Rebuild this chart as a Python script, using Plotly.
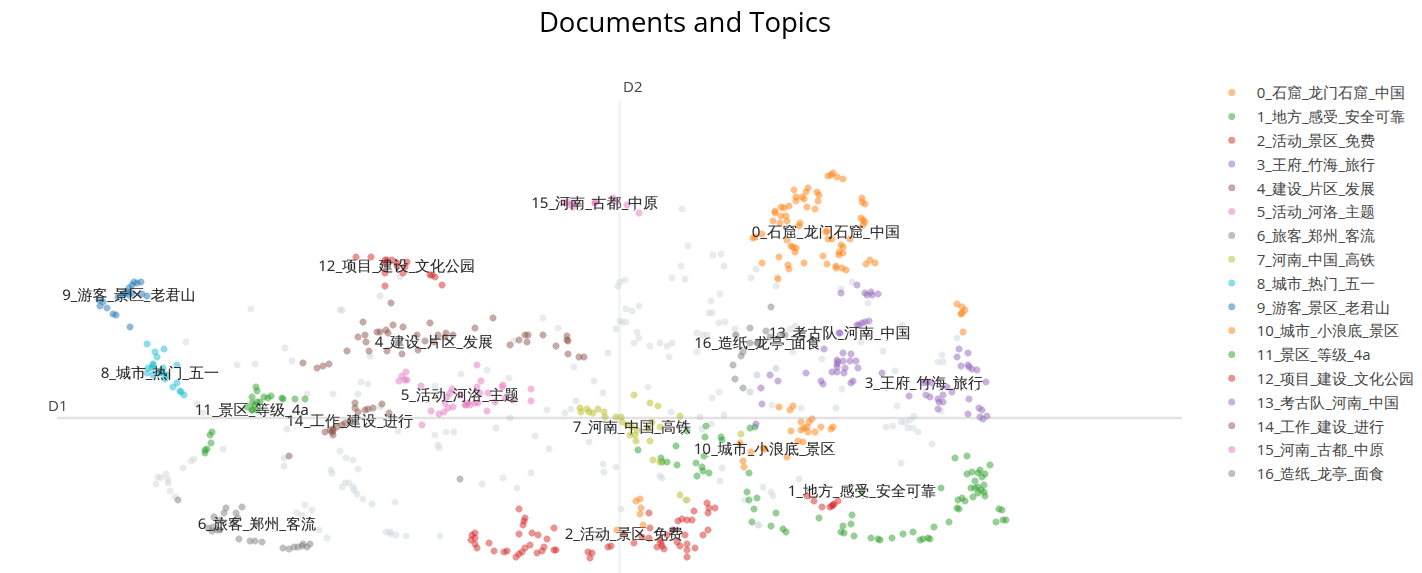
import plotly.graph_objects as go

other = [(251,309),(340,310),(342,310),(380,296),(400,277),(186,342),(285,348),(292,361),(237,365),(255,364),(370,356),
(461,374),(361,382),(368,384),(435,386),(307,394),(333,394),(358,394),(197,404),(203,413),(398,431),(380,407),(287,429),(435,435),(446,432),(454,432),(438,445),(439,448),(223,449),(194,459),(191,461),(183,468),(284,458),(284,466),(340,451),(346,458),(353,460),(358,469),(331,470),(332,473),(166,474),(158,477),(161,478),(168,480),(156,484),(168,483),(170,491),(175,497),(345,483),(349,483),(342,487),(353,487),(354,490),(357,494),(363,499),(372,504),(395,502),(305,505),(312,510),(297,513),(302,515),(319,530),(327,538),(386,532),(390,532),(391,534),(396,535),(406,536),(440,536),
(487,370),(509,378),(594,381),(603,393),(576,401),(571,409),(565,413),(547,410),(510,418),(496,428),(535,436),(549,449),(589,442),(603,464),(616,467),(604,472),(531,473),(503,478),(482,484),(517,488),(660,476),(662,478),(648,387),(671,412),(700,417),(712,398),(719,392),(724,415),(702,429),(711,424),(750,392),(757,375),(722,468),(720,481),(621,509),(745,500),(758,525),(597,538),(685,500),
(682,209),(688,246),(713,255),(721,254),(681,266),(724,266),(672,278),(685,279),(720,294),(711,301),(709,313),(712,313),(719,323),(725,322),(735,329),(697,333),(703,335),(707,335),(672,343),(667,346),(660,343),(650,346),(639,338),(637,332),(634,343),(669,357),(608,353),(574,367),(543,318),(558,328),(514,341),(618,286),(620,282),(625,280),(626,309),(632,311),(639,306),(620,321),(622,322),(626,322),(616,329),(697,352),
(756,269),(751,278),(777,277),(776,286),(852,282),(841,289),(868,303),(902,325),(957,338),(942,355),(938,362),(943,362),(883,351),(861,342),(822,359),(790,329),(795,326),(735,335),(793,352),(895,371),(776,368),(757,375),(750,392),(776,369),(842,389),(772,405),(801,408),(836,408),(897,406),(886,427),(893,426),(901,422),(905,422),(910,420),(914,416),(908,428),(913,428),(918,432),(941,411),(932,444),(901,463),(799,479),(763,487),(771,492),(773,496),(759,525)]

topic_0 = [(828,176),(831,175),(833,173),(837,177),(843,179),(794,190),(808,188),(806,192),(804,199),(802,197),(796,197),(796,201),(817,192),(819,195),(818,201),(807,207),(815,209),(862,198),(862,202),(865,204),(789,206),(781,207),(784,208),(775,211),(775,213),(781,216),(786,216),(773,221),(780,223),(787,221),(800,223),(799,226),(861,218),(863,220),(865,222),(863,225),(753,238),(755,237),(762,234),(787,240),(827,231),(828,239),(832,239),(850,239),(791,246),(793,247),(796,248),(795,252),(841,245),(843,247),(839,252),(843,253),(839,255),(779,257),(823,256),(762,263),(788,265),(789,269),(804,263),(827,264),(836,266),(836,268),(842,268),(846,270),(866,264),(870,260),(875,263),(778,279),(957,304),(962,307),(965,310),(962,313),(961,314),(963,332)]
topic_1 = [(955,458),(967,456),(990,465),(980,470),(978,473),(967,474),(972,472),(985,474),(982,477),(975,481),(971,488),(975,488),(978,487),(984,485),(981,490),(984,492),(978,493),(985,496),(973,497),(965,501),(962,498),(958,500),(957,508),(959,509),(999,509),(1002,510),(996,522),(1003,520),(1006,520),(949,522),(934,527),(913,532),(903,534),(892,538),(880,540),(871,538),(878,539),(920,540),(923,539),(928,538),(930,539),(941,488),(854,536),(844,533),(841,532),(843,526),(851,524),(852,515),(819,518),(786,532),(783,529),(771,526),(752,522),(776,513),(754,509),(757,498),(749,500),(747,492),(749,473),(638,450),(676,446),(661,458),(662,462),(667,462),(677,465),(696,463),(697,476),(702,467),(703,471),(709,473),(704,456),(705,437),(706,426),(721,437),(722,440),(687,431),(750,428),(755,427)]
topic_2 = [(519,509),(525,518),(524,521),(523,525),(519,534),(532,533),(538,535),(554,528),(547,539),(472,535),(475,533),(471,540),(475,538),(475,544),(477,548),(489,543),(494,551),(504,552),(507,551),(516,557),(519,554),(522,552),(525,548),(530,545),(537,553),(542,551),(544,547),(554,550),(556,550),(588,552),(592,553),(590,558),(608,547),(611,546),(634,543),(657,547),(661,543),(662,546),(664,549),(649,513),(650,528),(649,538),(678,521),(682,519),(687,520),(692,520),(694,511),(707,503),(709,508),(715,508),(708,513),(708,530),(703,535),(685,535),(687,544),(695,548),(687,550),(687,557),(680,546),(677,542),(673,530),(667,535),(660,540),(642,537),(807,496),(814,501),(822,507),(830,507),(833,505),(832,506),(834,504),(838,501)]
topic_3 = [(843,353),(851,354),(837,360),(838,362),(843,361),(850,361),(856,361),(837,367),(845,368),(858,368),(837,364),(832,372),(837,372),(844,373),(806,373),(770,375),(761,388),(778,381),(762,404),(821,381),(823,384),(853,381),(851,383),(882,373),(961,366),(968,365),(969,367),(972,369),(977,370),(986,382),(927,382),(932,383),(947,387),(952,392),(943,395),(926,395),(930,397),(909,396),(938,399),(943,402),(939,402),(969,399),(938,409),(979,408),(982,410),(968,414),(987,416),(980,417),(983,419),(756,424),(959,349),(968,353),(957,357)]
topic_4 = [(391,303),(363,322),(393,325),(403,327),(430,323),(475,328),(358,337),(365,335),(366,342),(377,332),(380,332),(386,330),(388,333),(347,351),(369,351),(387,351),(402,354),(418,350),(417,335),(425,341),(438,335),(446,333),(453,335),(445,337),(303,363),(317,368),(323,366),(329,364),(493,318),(510,345),(519,340),(525,335),(528,335),(527,342),(543,335),(556,346),(567,336),(567,340),(568,341),(568,354),(579,357),(584,357)]
topic_5 = [(406,372),(402,376),(399,381),(405,380),(407,380),(421,386),(450,393),(452,389),(447,397),(445,403),(448,408),(453,407),(431,411),(439,414),(444,412),(422,425),(466,405),(470,405),(475,403),(477,387),(480,393),(477,365),(481,381),(503,385),(502,387),(488,393),(531,389),(531,401),(487,411),(465,405),(468,403),(478,403),(495,402),(505,398),(513,400)]
topic_6 = [(226,508),(224,513),(242,507),(236,513),(238,518),(214,517),(220,520),(213,527),(217,530),(220,530),(208,528),(212,531),(233,523),(239,539),(250,541),(255,541),(262,542),(283,548),(289,549),(294,547),(298,547),(303,544),(307,547),(310,544),(302,546),(178,500),(460,479)]
topic_7 = [(634,395),(650,403),(658,406),(580,408),(581,412),(587,409),(589,412),(593,413),(598,409),(604,412),(605,417),(616,417),(621,417),(622,422),(627,425),(630,435),(635,435),(636,441),(650,441),(652,422),(660,427),(680,416),(653,460),(660,462),(680,495),(687,500),(741,434),(648,428),(637,430)]
topic_8 = [(147,344),(155,352),(164,349),(157,357),(177,365),(153,364),(163,368),(153,365),(148,368),(153,375),(165,379),(177,383),(173,387),(181,392),(184,395),(152,368),(147,373),(163,373),(160,372),(167,375),(180,391)]
topic_9 = [(141,282),(134,282),(137,283),(132,285),(129,288),(128,292),(125,293),(147,296),(142,294),(100,306),(107,308),(113,314),(116,315),(130,327),(99,300),(103,302),(118,297),(123,295),(132,293)]
topic_10 = [(636,501),(640,499),(641,508),(640,514),(643,525),(617,530),(779,407),(790,410),(793,406),(812,419),(809,422),(801,422),(807,427),(804,428),(801,430),(791,431),(808,432),(815,432),(821,427),(831,429),(833,427),(798,441),(803,442),(787,457),(751,452),(743,461),(744,467),(740,443),(763,448)]
topic_11 = [(256,387),(257,391),(252,397),(264,397),(271,396),(268,398),(282,398),(283,399),(295,399),(305,399),(257,402),(260,402),(252,403),(255,405),(247,407),(252,410),(257,410),(212,432),(210,435),(211,443),(207,449),(205,450),(205,453)]
topic_12 = [(356,257),(371,257),(385,260),(387,260),(392,260),(407,262),(385,263),(397,263),(385,273),(403,273),(430,275),(432,275),(435,277),(442,285),(385,286),(405,267)]
topic_13 = [(857,285),(841,293),(865,293),(867,295),(871,292),(872,295),(878,294),(869,321),(865,322),(862,323),(859,325),(857,325),(839,333),(824,349)]
topic_14 = [(355,403),(355,408),(358,412),(368,409),(373,408),(382,404),(389,413),(345,423),(337,427),(333,429),(332,432),(325,432),(333,435),(342,425),(289,456),(333,431),(330,430),(365,410)]
topic_15 = [(568,202),(570,205),(575,203),(595,203),(613,198),(617,202),(627,205),(639,213),(573,207),(565,203)]
topic_16 = [(771,307),(750,328),(766,331),(743,352),(741,356),(733,365),(785,335),(780,335),(770,337),(750,343),(757,343),(735,379),(743,388),(736,335)]

topic_points = [topic_0,topic_1,topic_2,topic_3,topic_4,topic_5,topic_6,topic_7,topic_8,topic_9,topic_10,topic_11,topic_12,topic_13,topic_14,topic_15,topic_16]
topic_names = ["0_石窟_龙门石窟_中国","1_地方_感受_安全可靠","2_活动_景区_免费","3_王府_竹海_旅行","4_建设_片区_发展","5_活动_河洛_主题","6_旅客_郑州_客流","7_河南_中国_高铁","8_城市_热门_五一","9_游客_景区_老君山","10_城市_小浪底_景区","11_景区_等级_4a","12_项目_建设_文化公园","13_考古队_河南_中国","14_工作_建设_进行","15_河南_古都_中原","16_造纸_龙亭_面食"]
label_x = [826,862,624,924,434,460,257,632,160,129,765,252,397,840,350,595,758]
label_y = [232,491,534,383,342,395,524,427,373,295,449,410,266,333,421,203,343]
d1_range = [57, 1182]
d2_range = [573, 100]
d1_mid = 619.5
d2_mid = 418

fig = go.Figure()
fig.add_trace(go.Scattergl(x=[p[0] for p in other], y=[p[1] for p in other], mode="markers", name="other",
                           showlegend=False, marker=dict(color="#CFD8DC", size=7, opacity=0.5, line=dict(width=0))))
for pts, name, lx, ly in zip(topic_points, topic_names, label_x, label_y):
    fig.add_trace(go.Scattergl(x=[p[0] for p in pts] + [lx], y=[p[1] for p in pts] + [ly],
                               text=[""] * len(pts) + [name], mode="markers+text", name=name, legendgroup=name,
                               textfont=dict(size=15, color="rgb(36,36,36)"),
                               marker=dict(size=7, opacity=0.5, line=dict(width=0))))

fig.add_shape(type="line", x0=d1_mid, x1=d1_mid, y0=d2_range[0], y1=d2_range[1], line=dict(color="#CFD8DC", width=2.5), opacity=0.3)
fig.add_shape(type="line", x0=d1_range[0], x1=d1_range[1], y0=d2_mid, y1=d2_mid, line=dict(color="#9E9E9E", width=2.5), opacity=0.3)
fig.add_annotation(x=d1_range[0], y=d2_mid, text="D1", showarrow=False, yshift=13, font=dict(size=15, color="#444"))
fig.add_annotation(x=d1_mid, y=d2_range[1], text="D2", showarrow=False, xshift=12.5, yshift=14, font=dict(size=15, color="#444"))
fig.update_xaxes(visible=False, range=d1_range)
fig.update_yaxes(visible=False, range=d2_range)
fig.update_layout(template="simple_white", width=1406, height=565, autosize=False,
                  margin=dict(l=49, r=232, t=92, b=0, autoexpand=False),
                  title=dict(text="Documents and Topics", x=677/1406, xanchor="center", y=0.975, yanchor="middle",
                             font=dict(size=27.5, color="black")),
                  legend=dict(x=1.022, y=1.05, xanchor="left", yanchor="top", itemwidth=40, maxheight=520,
                              tracegroupgap=1.3, font=dict(size=15, color="#444")))
fig.write_html("out.html")
